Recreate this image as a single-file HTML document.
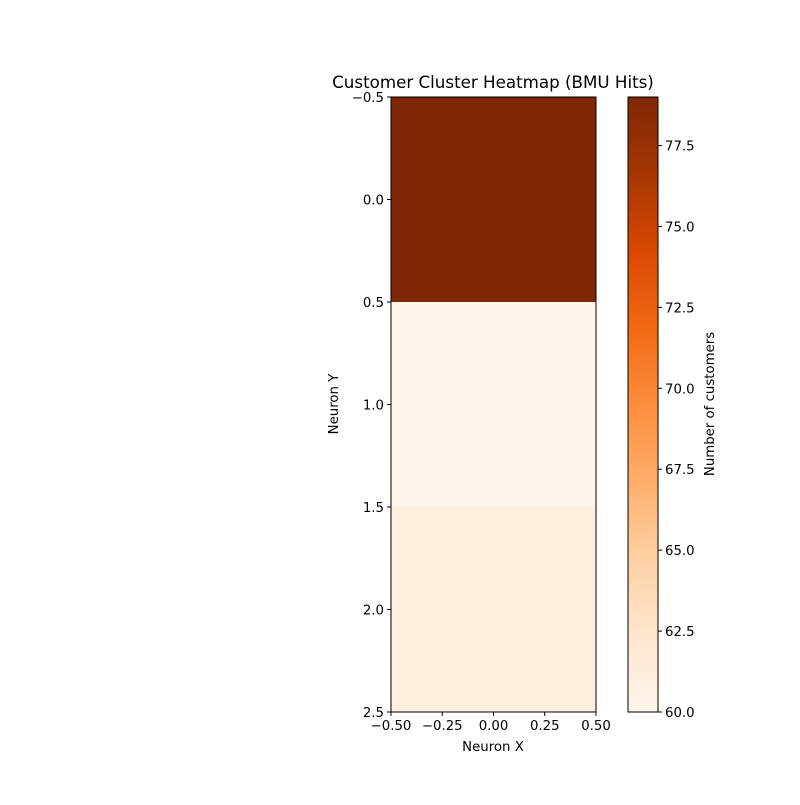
<!DOCTYPE html>
<html><head><meta charset="utf-8"><style>
body{margin:0;background:#fff}
text{font-family:"DejaVu Sans","Liberation Sans",sans-serif;fill:#000}
</style></head><body>
<svg id="chart" width="800" height="800" xmlns="http://www.w3.org/2000/svg">
<defs><linearGradient id="cbgrad" x1="0" y1="1" x2="0" y2="0"></linearGradient></defs>
<text x="493" y="88" font-size="16.7" text-anchor="middle">Customer Cluster Heatmap (BMU Hits)</text>
<g id="cells"></g><g id="axes"></g>
<text x="493" y="751" font-size="13.3" text-anchor="middle">Neuron X</text>
<text transform="translate(338,404) rotate(-90)" font-size="13.3" text-anchor="middle">Neuron Y</text>
<text transform="translate(714,404) rotate(-90)" font-size="13.3" text-anchor="middle">Number of customers</text>
</svg>
<script>
const rows=[0,1,2];
const cols=[0];
const values=[[79],[60],[61]];
const xTicks=[-0.5,-0.25,0,0.25,0.5];
const yTicks=[-0.5,0,0.5,1,1.5,2,2.5];
const cbTicks=[60,62.5,65,67.5,70,72.5,75,77.5];
const stops=["#fff5eb","#fee6ce","#fdd0a2","#fdae6b","#fd8d3c","#f16913","#d94801","#a63603","#7f2704"];
const NS="http://www.w3.org/2000/svg";
const svg=document.getElementById('chart');
const L=391,R=596,T=97,B=712,CX0=628,CX1=658;
const xS=v=>L+(v+0.5)/1*(R-L);
const yS=v=>T+(v+0.5)/3*(B-T);
const flat=values.flat();const vmin=Math.min(...flat),vmax=Math.max(...flat);
const cS=v=>B-(v-vmin)/(vmax-vmin)*(B-T);
function hex(h){return [1,3,5].map(i=>parseInt(h.substr(i,2),16));}
function cmap(t){t=Math.max(0,Math.min(1,t));const p=t*(stops.length-1);const i=Math.min(Math.floor(p),stops.length-2);const f=p-i;const a=hex(stops[i]),b=hex(stops[i+1]);return 'rgb('+a.map((x,k)=>Math.round(x+(b[k]-x)*f)).join(',')+')';}
function mk(tag,attrs,parent){const e=document.createElementNS(NS,tag);for(const k in attrs)e.setAttribute(k,attrs[k]);(parent||svg).appendChild(e);return e;}
const cells=document.getElementById('cells');
rows.forEach(r=>cols.forEach(c=>{
 const el=mk('rect',{x:xS(c-0.5),y:yS(r-0.5),width:xS(c+0.5)-xS(c-0.5),height:yS(r+0.5)-yS(r-0.5),fill:cmap((values[r][c]-vmin)/(vmax-vmin))},cells);
 
 
}));
const g=document.getElementById('cbgrad');
stops.forEach((s,i)=>mk('stop',{offset:i/(stops.length-1),'stop-color':s},g));
const ax=document.getElementById('axes');
mk('rect',{x:L,y:T,width:R-L,height:B-T,fill:'none',stroke:'#000','stroke-width':1},ax);
const cb=mk('rect',{x:CX0,y:T,width:CX1-CX0,height:B-T,fill:'url(#cbgrad)',stroke:'#000','stroke-width':1},ax);


xTicks.forEach(v=>{const x=xS(v);mk('line',{x1:x,x2:x,y1:B,y2:B+4,stroke:'#000'},ax);
 const t=mk('text',{x:x,y:B+18,'font-size':13.3,'text-anchor':'middle'},ax);t.textContent=v.toFixed(2).replace('-','−');
 });
yTicks.forEach(v=>{const y=yS(v);mk('line',{x1:L-4,x2:L,y1:y,y2:y,stroke:'#000'},ax);
 const t=mk('text',{x:L-7,y:y+5,'font-size':13.3,'text-anchor':'end'},ax);t.textContent=v.toFixed(1).replace('-','−');
 });
cbTicks.forEach(v=>{const y=cS(v);mk('line',{x1:CX1,x2:CX1+4,y1:y,y2:y,stroke:'#000'},ax);
 const t=mk('text',{x:CX1+7,y:y+5,'font-size':13.3},ax);t.textContent=v.toFixed(1);
 });
</script>
</body></html>
